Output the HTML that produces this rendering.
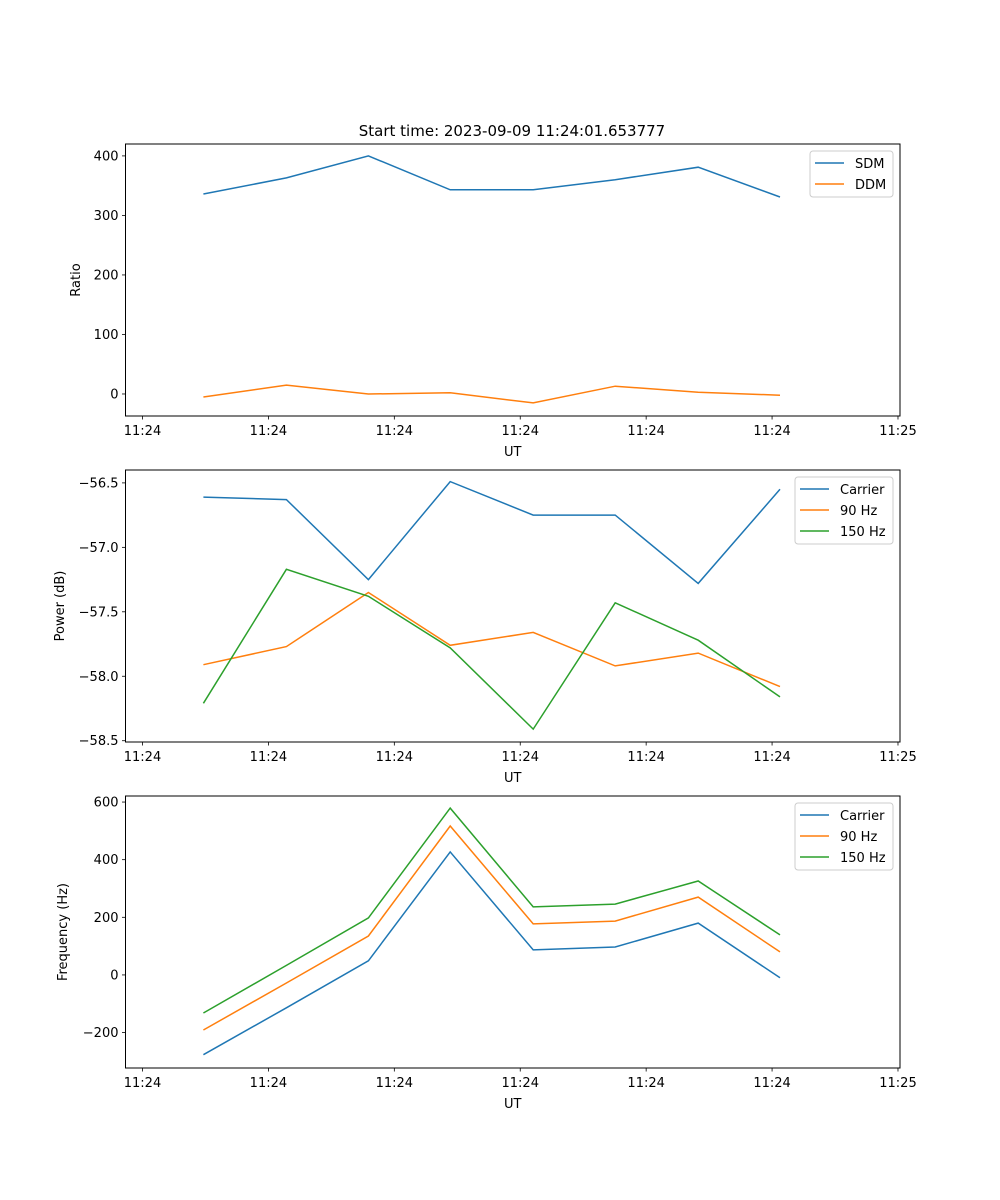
<!DOCTYPE html>
<html><head><meta charset="utf-8">
<style>
body{margin:0;background:#fff;}
svg{display:block;font-family:"DejaVu Sans","Liberation Sans",sans-serif;}
</style></head>
<body>
<svg id="fig" width="1000" height="1200" viewBox="0 0 1000 1200">
<text x="512" y="136" font-size="15" text-anchor="middle">Start time: 2023-09-09 11:24:01.653777</text>
</svg>
<script>
// time in seconds after 11:24:00
const times = [4.84, 11.43, 17.94, 24.44, 31.03, 37.54, 44.13, 50.63];
const xTickVals = [0, 10, 20, 30, 40, 50, 60];
const xTickLabels = ["11:24","11:24","11:24","11:24","11:24","11:24","11:25"];

const sdm = [336, 363, 400, 343, 343, 360, 381, 331];
const ddm = [-5, 15, 0, 2, -15, 13, 3, -2];
const ratioTicks = [0, 100, 200, 300, 400];

const powCarrier = [-56.61, -56.63, -57.25, -56.49, -56.75, -56.75, -57.28, -56.55];
const pow90 = [-57.91, -57.77, -57.35, -57.76, -57.66, -57.92, -57.82, -58.08];
const pow150 = [-58.21, -57.17, -57.38, -57.78, -58.41, -57.43, -57.72, -58.16];
const powTicks = [-56.5, -57.0, -57.5, -58.0, -58.5];

const freqCarrier = [-277, -114, 49, 427, 87, 97, 180, -10];
const freq90 = [-191, -28, 135, 517, 177, 187, 270, 80];
const freq150 = [-132, 33, 198, 579, 236, 246, 326, 139];
const freqTicks = [-200, 0, 200, 400, 600];

const NS="http://www.w3.org/2000/svg";
const svg=document.getElementById('fig');
const C={blue:"#1f77b4",orange:"#ff7f0e",green:"#2ca02c"};
function el(tag,attrs,parent){const e=document.createElementNS(NS,tag);for(const k in attrs)e.setAttribute(k,attrs[k]);(parent||svg).appendChild(e);return e;}
const L=125.5,R=900,XMIN=-1.35,XMAX=60.16;
const xs=t=>L+(t-XMIN)/(XMAX-XMIN)*(R-L);

function panel(name,top,bot,ymin,ymax,ticks,fmt,ylabel,series,legend){
  const g=el('g',{});
  
  
  const ys=v=>bot-(v-ymin)/(ymax-ymin)*(bot-top);
  // series
  series.forEach(s=>{
    const pts=s.data.map((v,i)=>xs(times[i]).toFixed(1)+","+ys(v).toFixed(1)).join(" ");
    const p=el('polyline',{points:pts,fill:"none",stroke:s.color,"stroke-width":1.5},g);
    
    
  });
  const fr=el('rect',{x:L,y:top,width:R-L,height:bot-top,fill:"none",stroke:"#000","stroke-width":1},g);
  
  
  // y ticks
  ticks.forEach(v=>{
    const y=ys(v);
    el('line',{x1:L-3.5,x2:L,y1:y,y2:y,stroke:"#000","stroke-width":0.8},g);
    const t=el('text',{x:L-7,y:y+4.5,"font-size":13,"text-anchor":"end"},g);
    t.textContent=fmt(v);
    
    
  });
  // x ticks
  xTickVals.forEach((v,i)=>{
    const x=xs(v);
    el('line',{x1:x,x2:x,y1:bot,y2:bot+3.5,stroke:"#000","stroke-width":0.8},g);
    const t=el('text',{x:x,y:bot+19,"font-size":13,"text-anchor":"middle"},g);
    t.textContent=xTickLabels[i];
    
    
  });
  const xl=el('text',{x:(L+R)/2,y:bot+40,"font-size":13,"text-anchor":"middle"},g);
  xl.textContent="UT";
  
  
  const yc=(top+bot)/2;
  const yl=el('text',{x:legend.ylx,y:yc,"font-size":13,"text-anchor":"middle",transform:`rotate(-90 ${legend.ylx} ${yc})`},g);
  yl.textContent=ylabel;
  
  
  // legend
  const lg=el('g',{},g);
  
  
  const h=series.length*21+4;
  el('rect',{x:legend.x,y:top+7,width:R-7-legend.x,height:h,rx:3,fill:"#fff",stroke:"#ccc","stroke-width":1},lg);
  series.forEach((s,i)=>{
    const y=top+19+i*21;
    el('line',{x1:legend.x+5,x2:legend.x+34,y1:y,y2:y,stroke:s.color,"stroke-width":1.5},lg);
    const t=el('text',{x:legend.x+45,y:y+5,"font-size":13},lg);
    t.textContent=s.label;
    
    
  });
}

panel('ratio',144,416,-37,420,ratioTicks,v=>String(v),"Ratio",
  [{key:'sdm',label:'SDM',data:sdm,color:C.blue},{key:'ddm',label:'DDM',data:ddm,color:C.orange}],
  {x:810,ylx:80});
panel('power',470,742,-58.51,-56.40,powTicks,v=>"\u2212"+Math.abs(v).toFixed(1),"Power (dB)",
  [{key:'carrier',label:'Carrier',data:powCarrier,color:C.blue},{key:'90hz',label:'90 Hz',data:pow90,color:C.orange},{key:'150hz',label:'150 Hz',data:pow150,color:C.green}],
  {x:795,ylx:64});
panel('frequency',796,1068,-323,621,freqTicks,v=>(v<0?"\u2212":"")+Math.abs(v),"Frequency (Hz)",
  [{key:'carrier',label:'Carrier',data:freqCarrier,color:C.blue},{key:'90hz',label:'90 Hz',data:freq90,color:C.orange},{key:'150hz',label:'150 Hz',data:freq150,color:C.green}],
  {x:795,ylx:67});
</script>
</body></html>
